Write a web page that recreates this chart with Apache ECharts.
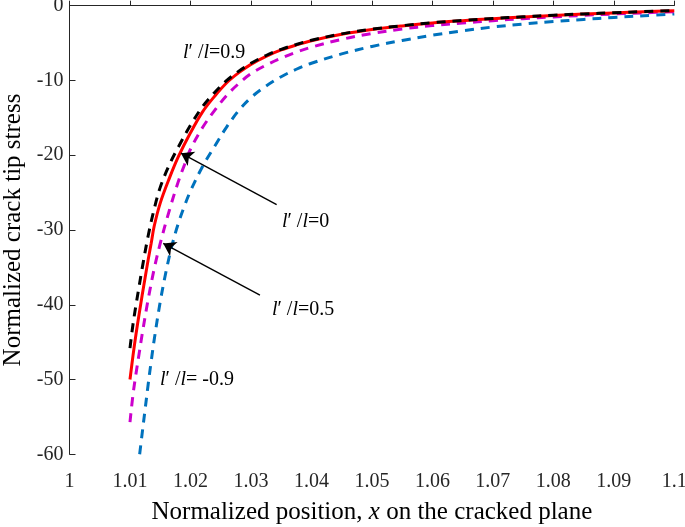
<!DOCTYPE html>
<html>
<head>
<meta charset="utf-8">
<script src="https://cdn.jsdelivr.net/npm/echarts@6/dist/echarts.min.js"></script>
<style>html,body{margin:0;padding:0;background:#fff}#c{width:685px;height:527px}</style>
</head>
<body>
<div id="c"></div>
<script>
// ---- data ----
const xTicks = [1, 1.1, 0.01];          // min, max, step
const yTicks = [-60, 0, 10];

// l'/l = 0 (red, solid)
const xR = [1.0100,1.0105,1.0110,1.0115,1.0120,1.0125,1.0130,1.0135,1.0140,1.0150,1.0165,1.0180,1.0200,1.0220,1.0240,1.0260,1.0280,1.0300,1.0325,1.0350,1.0375,1.0400,1.0450,1.0500,1.0550,1.0600,1.0650,1.0700,1.0750,1.0800,1.0850,1.0900,1.0950,1.1000];
const yR = [-50.0,-46.8,-43.9,-41.3,-38.8,-36.4,-34.0,-31.8,-29.5,-26.4,-23.1,-20.2,-17.0,-14.2,-12.1,-10.3,-8.95,-7.85,-6.78,-5.92,-5.25,-4.68,-3.82,-3.18,-2.70,-2.30,-2.00,-1.73,-1.50,-1.30,-1.12,-0.96,-0.81,-0.67];

// l'/l = 0.9 (black, dashed)
const xB = [1.0100,1.0105,1.0110,1.0115,1.0120,1.0130,1.0140,1.0150,1.0165,1.0180,1.0200,1.0220,1.0240,1.0260,1.0280,1.0300,1.0325,1.0350,1.0375,1.0400,1.0450,1.0500,1.0550,1.0600,1.0650,1.0700,1.0750,1.0800,1.0850,1.0900,1.0950,1.1000];
const yB = [-45.8,-42.6,-40.0,-37.6,-35.2,-30.8,-27.2,-24.3,-21.3,-18.9,-16.0,-13.5,-11.6,-10.0,-8.75,-7.70,-6.66,-5.83,-5.19,-4.62,-3.77,-3.14,-2.67,-2.27,-1.98,-1.71,-1.48,-1.28,-1.10,-0.94,-0.79,-0.65];

// l'/l = 0.5 (magenta, dashed)
const xM = [1.0100,1.0105,1.0110,1.0115,1.0120,1.0130,1.0140,1.0150,1.0165,1.0180,1.0190,1.0200,1.0220,1.0240,1.0260,1.0280,1.0300,1.0325,1.0350,1.0375,1.0400,1.0450,1.0500,1.0550,1.0600,1.0650,1.0700,1.0750,1.0800,1.0850,1.0900,1.0950,1.1000];
const yM = [-55.7,-52.0,-49.2,-46.6,-44.0,-39.3,-35.2,-31.8,-27.4,-23.5,-21.3,-19.2,-16.3,-14.0,-12.0,-10.4,-9.10,-7.95,-7.00,-6.22,-5.55,-4.50,-3.72,-3.12,-2.66,-2.31,-2.00,-1.73,-1.50,-1.29,-1.11,-0.95,-0.80];

// l'/l = -0.9 (blue, dashed)
const xC = [1.0116,1.0120,1.0125,1.0130,1.0135,1.0140,1.0150,1.0160,1.0170,1.0180,1.0190,1.0200,1.0220,1.0240,1.0260,1.0280,1.0300,1.0325,1.0350,1.0375,1.0400,1.0450,1.0500,1.0550,1.0600,1.0650,1.0700,1.0750,1.0800,1.0850,1.0900,1.0950,1.1000];
const yC = [-60,-57.3,-54.0,-50.7,-47.6,-44.7,-39.6,-35.4,-31.9,-29.1,-26.8,-24.8,-21.5,-18.8,-16.2,-14.0,-12.3,-10.75,-9.5,-8.5,-7.7,-6.45,-5.45,-4.65,-3.95,-3.35,-2.85,-2.45,-2.12,-1.84,-1.58,-1.34,-1.10];

// annotations: [label value, x, y]
const labels = [['0.9', 1.01876, -6.3], ['0', 1.03512, -28.9], ['0.5', 1.03347, -40.7], [' -0.9', 1.01496, -50.0]];
// arrows: [x1, y1, x2(tip), y2(tip)]
const arrows = [[1.03425, -26.6, 1.01843, -19.73], [1.03149, -38.7, 1.0155, -31.8]];

const FONT = '"Liberation Serif", "Times New Roman", serif';
const pair = (xs, ys) => xs.map((x, i) => [x, ys[i]]);

const chart = echarts.init(document.getElementById('c'), null, {renderer: 'canvas'});
const richI = {fontFamily: FONT, fontSize: 20, fontStyle: 'italic', color: '#000'};
const richN = {fontFamily: FONT, fontSize: 20, color: '#000'};

const lineBase = {type: 'line', showSymbol: false, symbol: 'none', smooth: 0.35, clip: true};

const option = {
  animation: false,
  backgroundColor: '#fff',
  grid: {left: 69.5, right: 10.7, top: 5.7, bottom: 72.7, containLabel: false, outerBoundsMode: 'none'},
  xAxis: {
    type: 'value', min: xTicks[0], max: xTicks[1], interval: xTicks[2],
    splitLine: {show: false},
    axisLine: {show: true, lineStyle: {color: '#262626', width: 1}},
    axisTick: {show: true, inside: true, length: 5, lineStyle: {color: '#262626'}},
    axisLabel: {color: '#262626', fontFamily: FONT, fontSize: 20, margin: 17},
    name: 'Normalized position, {i|x} on the cracked plane',
    nameLocation: 'middle', nameGap: 46,
    nameTextStyle: {fontFamily: FONT, fontSize: 25, color: '#000',
      rich: {i: {fontFamily: FONT, fontSize: 25, fontStyle: 'italic', color: '#000'}}}
  },
  yAxis: {
    type: 'value', min: yTicks[0], max: yTicks[1], interval: yTicks[2],
    splitLine: {show: false},
    axisLine: {show: true, lineStyle: {color: '#262626', width: 1}},
    axisTick: {show: true, inside: true, length: 6, lineStyle: {color: '#262626'}},
    axisLabel: {color: '#262626', fontFamily: FONT, fontSize: 20, margin: 6},
    name: 'Normalized crack tip stress',
    nameLocation: 'middle', nameGap: 44,
    nameTextStyle: {fontFamily: FONT, fontSize: 25, color: '#000'}
  },
  series: [
    Object.assign({}, lineBase, {name: 'b', data: pair(xC, yC),
     lineStyle: {color: '#0072BD', width: 3, type: [9, 7]}}),
    Object.assign({}, lineBase, {name: 'm', data: pair(xM, yM),
     lineStyle: {color: '#CC00CC', width: 3, type: [9, 7]}}),
    Object.assign({}, lineBase, {name: 'r', data: pair(xR, yR),
     lineStyle: {color: '#FF0000', width: 3}}),
    Object.assign({}, lineBase, {name: 'k', data: pair(xB, yB),
     lineStyle: {color: '#000000', width: 3, type: [9, 7]}}),
    {type: 'line', name: 'annot', data: [], silent: true,
     markLine: {
       silent: true, animation: false,
       symbol: ['none', 'arrow'], symbolSize: 12,
       label: {show: false},
       emphasis: {disabled: true},
       lineStyle: {color: '#000', width: 1.4, type: 'solid'},
       itemStyle: {color: '#000'},
       data: arrows.map(a => [{coord: [a[0], a[1]]}, {coord: [a[2], a[3]]}])
     },
     markPoint: {
       silent: true, animation: false, symbol: 'circle', symbolSize: 0,
       itemStyle: {color: 'rgba(0,0,0,0)'},
       label: {show: true, position: 'right', distance: 0,
         formatter: p => '{i|l}{n|′ /}{i|l}{n|=' + p.name + '}',
         rich: {i: richI, n: richN}},
       data: labels.map(l => ({name: l[0], coord: [l[1], l[2]]}))
     }}
  ]
};
chart.setOption(option);
</script>
</body>
</html>
